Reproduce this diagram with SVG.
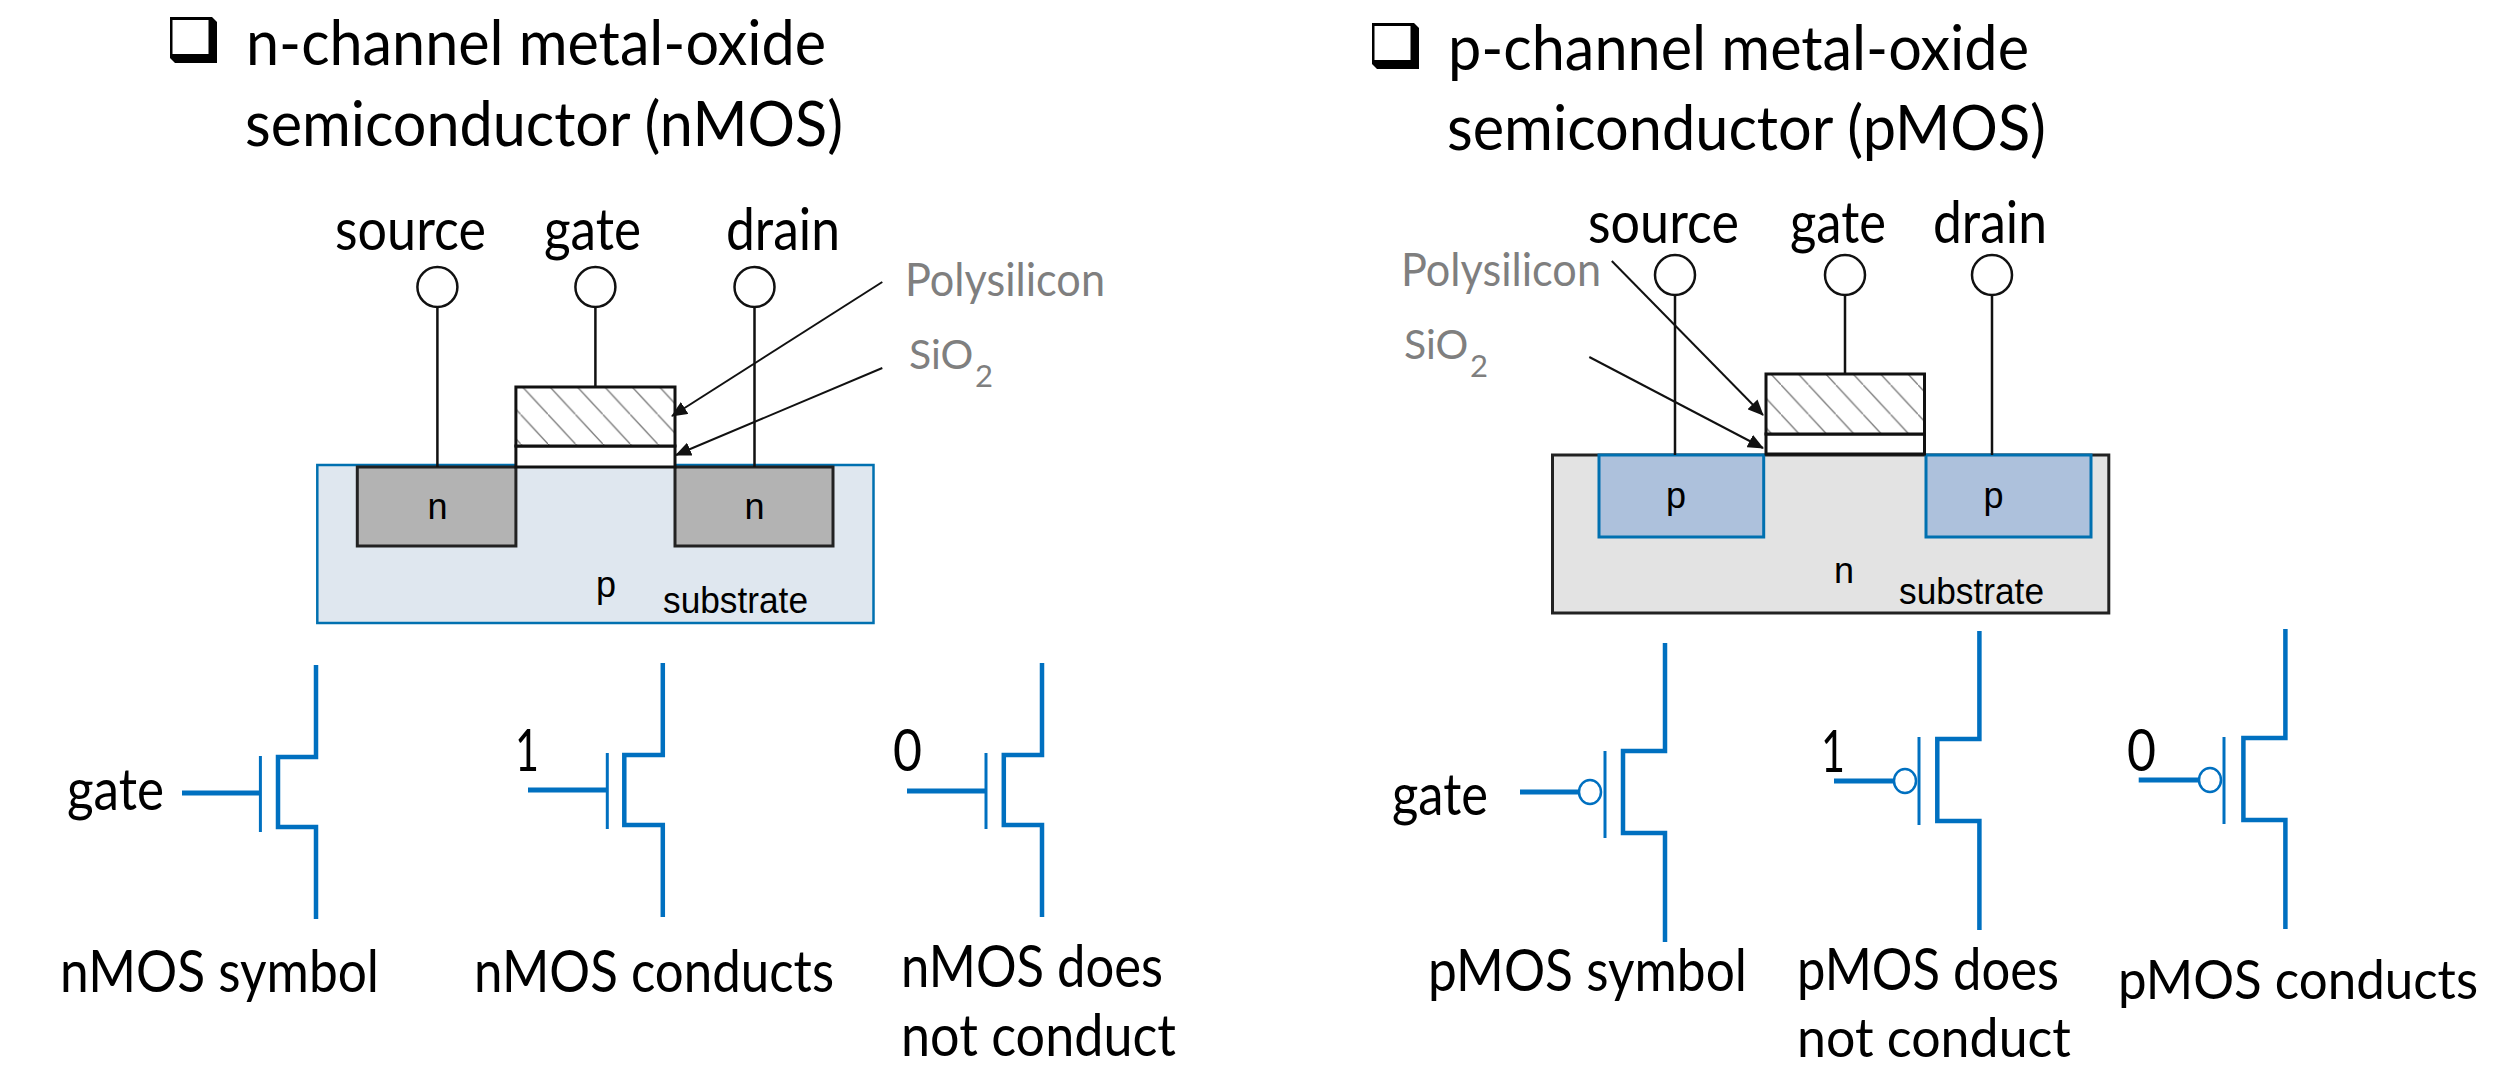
<svg xmlns="http://www.w3.org/2000/svg" width="2496" height="1065" viewBox="0 0 2496 1065">
<style>
text{font-family:Lato,"Open Sans","Liberation Sans",sans-serif;fill:#000}
.h{font-size:62px}.m{font-size:59px}.m2{font-size:54px}.g{font-size:47px;fill:#7f7f7f}.si{font-size:41px;fill:#7f7f7f}.sub{font-size:31px;fill:#7f7f7f}
.a{font-family:"Liberation Sans",Arial,sans-serif;font-size:36px}
.pin{fill:#fff;stroke:#111;stroke-width:2.5}
.w{fill:none;stroke:#111;stroke-width:2.5}
.lead{fill:none;stroke:#111;stroke-width:2;marker-end:url(#ah)}
.ox{fill:#fff;stroke:#111;stroke-width:3}
.poly{fill:url(#hatch);stroke:#111;stroke-width:3}
.t path{fill:none;stroke:#0070c0;stroke-width:4.5}
.t line{fill:none;stroke:#0070c0;stroke-width:5}
.t .bar{stroke-width:3}
.t ellipse{fill:#fff;stroke:#0070c0;stroke-width:2.5}
</style>
<defs>
<marker id="ah" markerUnits="userSpaceOnUse" markerWidth="18" markerHeight="14" refX="15" refY="7" orient="auto"><path d="M0 0L16 7L0 14Z" fill="#111"/></marker>
<pattern id="hatch" patternUnits="userSpaceOnUse" x="0" y="0" width="27.4" height="29.6"><rect width="27.4" height="29.6" fill="#fff"/><path d="M0 0L27.4 29.6" stroke="#777" stroke-width="1.3" fill="none"/></pattern>
<g id="box"><path d="M0 0H42L47 5V46H5L0 41Z" fill="#000"/><rect x="2.5" y="3" width="36" height="34" fill="#fff"/></g>
</defs>

<g id="nmos-title"><use href="#box" x="170" y="17"/>
<text class="h" x="246" y="65" textLength="580" lengthAdjust="spacingAndGlyphs">n-channel metal-oxide</text>
<text class="h" x="245" y="146" textLength="598" lengthAdjust="spacingAndGlyphs">semiconductor (nMOS)</text></g>

<g id="pmos-title"><use href="#box" x="1372" y="23"/>
<text class="h" x="1448" y="70" textLength="581" lengthAdjust="spacingAndGlyphs">p-channel metal-oxide</text>
<text class="h" x="1447" y="150" textLength="599" lengthAdjust="spacingAndGlyphs">semiconductor (pMOS)</text></g>

<g id="nmos-device">
<rect x="317.3" y="465" width="556.2" height="158" fill="#dfe7ef" stroke="#0070b0" stroke-width="2.5"/>
<rect x="357.3" y="467" width="158.6" height="79" fill="#b3b3b3" stroke="#222" stroke-width="3"/>
<rect x="675" y="467" width="158" height="79" fill="#b3b3b3" stroke="#222" stroke-width="3"/>
<rect class="ox" x="515.9" y="446" width="159.1" height="21"/>
<rect class="poly" x="515.9" y="387" width="159.1" height="59"/>
<text class="a" x="437.4" y="519" text-anchor="middle">n</text>
<text class="a" x="754.5" y="519" text-anchor="middle">n</text>
<text class="a" x="606" y="597" text-anchor="middle">p</text>
<text class="a" x="663" y="613" textLength="145" lengthAdjust="spacingAndGlyphs">substrate</text>
</g>

<g id="pmos-device">
<rect x="1552.5" y="455" width="556.3" height="158" fill="#e3e3e3" stroke="#222" stroke-width="3"/>
<rect x="1599" y="455" width="164.7" height="82" fill="#adc1dc" stroke="#0070b0" stroke-width="3"/>
<rect x="1926" y="455" width="165" height="82" fill="#adc1dc" stroke="#0070b0" stroke-width="3"/>
<rect class="ox" x="1766" y="434" width="158.5" height="20"/>
<rect class="poly" x="1766" y="374" width="158.5" height="60"/>
<text class="a" x="1676" y="508" text-anchor="middle">p</text>
<text class="a" x="1993.6" y="508" text-anchor="middle">p</text>
<text class="a" x="1844" y="583" text-anchor="middle">n</text>
<text class="a" x="1899" y="604" textLength="145" lengthAdjust="spacingAndGlyphs">substrate</text>
</g>

<g id="connectors">
<path class="w" d="M437.4 308V467M595.4 308V387M754.5 308V467M1675 296V455M1845 296V374M1992 296V455"/>
<path class="lead" d="M882.3 282L672 416"/>
<path class="lead" d="M882.3 368L676 455"/>
<path class="lead" d="M1611.8 261L1763 415"/>
<path class="lead" d="M1589.3 357L1763 448"/>
</g>

<g id="nmos-source"><ellipse class="pin" cx="437.4" cy="287" rx="20" ry="20"/><text class="m" x="335" y="250" textLength="151" lengthAdjust="spacingAndGlyphs">source</text></g>
<g id="nmos-gate"><ellipse class="pin" cx="595.4" cy="287" rx="20" ry="20"/><text class="m" x="544" y="250" textLength="97" lengthAdjust="spacingAndGlyphs">gate</text></g>
<g id="nmos-drain"><ellipse class="pin" cx="754.5" cy="287" rx="20" ry="20"/><text class="m" x="726" y="250" textLength="114" lengthAdjust="spacingAndGlyphs">drain</text></g>
<g id="pmos-source"><ellipse class="pin" cx="1675" cy="275" rx="20" ry="20"/><text class="m" x="1588" y="243" textLength="151" lengthAdjust="spacingAndGlyphs">source</text></g>
<g id="pmos-gate"><ellipse class="pin" cx="1845" cy="275" rx="20" ry="20"/><text class="m" x="1790" y="243" textLength="96" lengthAdjust="spacingAndGlyphs">gate</text></g>
<g id="pmos-drain"><ellipse class="pin" cx="1992" cy="275" rx="20" ry="20"/><text class="m" x="1933" y="243" textLength="114" lengthAdjust="spacingAndGlyphs">drain</text></g>

<g id="nmos-labels">
<text class="g" x="905" y="296" textLength="200" lengthAdjust="spacingAndGlyphs">Polysilicon</text>
<text class="si" x="909" y="369">SiO</text><text class="sub" x="975" y="387">2</text>
</g>
<g id="pmos-labels">
<text class="g" x="1401" y="286" textLength="200" lengthAdjust="spacingAndGlyphs">Polysilicon</text>
<text class="si" x="1404" y="359">SiO</text><text class="sub" x="1470" y="377">2</text>
</g>

<g id="nmos-symbol" class="t">
<path d="M316 665V757H278V827H316V919"/><line class="bar" x1="260.4" y1="756" x2="260.4" y2="832"/><line x1="182" y1="793" x2="260.4" y2="793"/>
<text class="m" x="67" y="810" textLength="97" lengthAdjust="spacingAndGlyphs">gate</text>
<text class="m" x="60" y="992" textLength="319" lengthAdjust="spacingAndGlyphs">nMOS symbol</text></g>
<g id="nmos-on" class="t">
<path d="M662.8 663V755H624.3V825H662.8V917"/><line class="bar" x1="607.3" y1="753" x2="607.3" y2="829"/><line x1="528" y1="790" x2="607.3" y2="790"/>
<text class="m" x="515" y="771" textLength="24" lengthAdjust="spacingAndGlyphs">1</text>
<text class="m" x="474" y="992" textLength="360" lengthAdjust="spacingAndGlyphs">nMOS conducts</text></g>
<g id="nmos-off" class="t">
<path d="M1042 663V755H1003.8V825H1042V917"/><line class="bar" x1="986" y1="753" x2="986" y2="829"/><line x1="907" y1="791" x2="986" y2="791"/>
<text class="m" x="893" y="771" textLength="29" lengthAdjust="spacingAndGlyphs">0</text>
<text class="m" x="901" y="987" textLength="262" lengthAdjust="spacingAndGlyphs">nMOS does</text>
<text class="m" x="901" y="1056" textLength="275" lengthAdjust="spacingAndGlyphs">not conduct</text></g>

<g id="pmos-symbol" class="t">
<path d="M1665 643V751H1623V833H1665V942"/><line class="bar" x1="1605" y1="751" x2="1605" y2="838"/><line x1="1520" y1="792" x2="1579" y2="792"/><ellipse cx="1590" cy="792" rx="11" ry="12"/>
<text class="m" x="1392" y="815" textLength="96" lengthAdjust="spacingAndGlyphs">gate</text>
<text class="m" x="1428" y="991" textLength="319" lengthAdjust="spacingAndGlyphs">pMOS symbol</text></g>
<g id="pmos-off" class="t">
<path d="M1979.4 631V739H1937.3V821H1979.4V930"/><line class="bar" x1="1919" y1="737" x2="1919" y2="825"/><line x1="1834" y1="781" x2="1894" y2="781"/><ellipse cx="1905" cy="781" rx="11" ry="12"/>
<text class="m" x="1821" y="772" textLength="24" lengthAdjust="spacingAndGlyphs">1</text>
<text class="m" x="1797" y="990" textLength="262" lengthAdjust="spacingAndGlyphs">pMOS does</text>
<text class="m2" x="1797" y="1057" textLength="274" lengthAdjust="spacingAndGlyphs">not conduct</text></g>
<g id="pmos-on" class="t">
<path d="M2285.4 629V738H2243.4V820H2285.4V929"/><line class="bar" x1="2224" y1="737" x2="2224" y2="824"/><line x1="2138.7" y1="780" x2="2199" y2="780"/><ellipse cx="2210" cy="780" rx="11" ry="12"/>
<text class="m" x="2127" y="771" textLength="29" lengthAdjust="spacingAndGlyphs">0</text>
<text class="m2" x="2118" y="999" textLength="360" lengthAdjust="spacingAndGlyphs">pMOS conducts</text></g>
</svg>
